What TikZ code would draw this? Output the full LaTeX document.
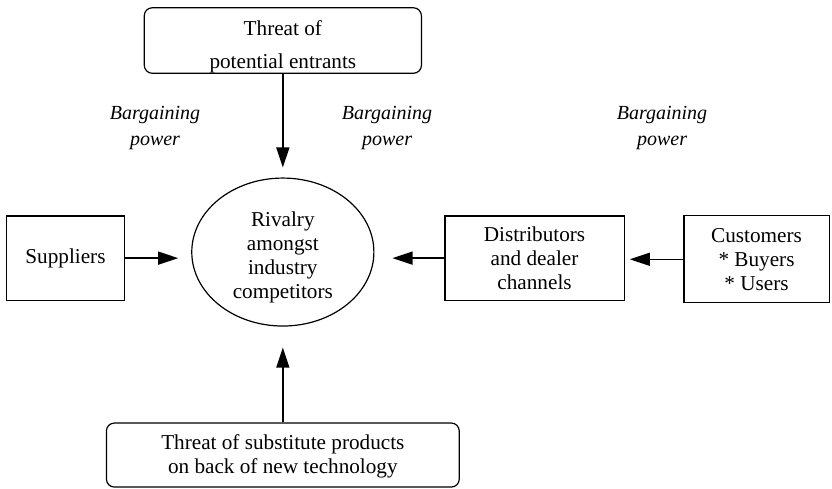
\documentclass[tikz,border=0pt]{standalone}
\usepackage{fontspec}
\setmainfont{Liberation Serif}
\usetikzlibrary{arrows.meta,shapes.geometric}

\tikzset{
  force/.style={draw,line width=0.6pt,align=center,inner sep=0pt,
    font=\fontsize{10.6}{12}\selectfont},
  threat/.style={force,rounded corners=4pt},
  flow/.style={line width=0.7pt,-{Triangle[length=10pt,width=6.5pt]}},
  power/.style={align=center,font=\fontsize{10}{13}\selectfont\itshape}
}

\begin{document}
\begin{tikzpicture}
  \useasboundingbox (0,0) rectangle (14.62,8.576);
  % the five forces
  \node[threat,minimum width=4.87cm,minimum height=1.14cm,
    font=\fontsize{10.6}{16.5}\selectfont] (entrants) at (4.97,7.864)
    {\rule{0pt}{14pt}Threat of\\potential entrants};
  \node[force,ellipse,minimum width=3.2cm,minimum height=2.6cm] (rivalry) at (4.97,4.147)
    {\rule{0pt}{12.5pt}Rivalry\\amongst\\industry\\competitors};
  \node[force,minimum width=2.06cm,minimum height=1.48cm] (suppliers) at (1.151,4.04) {Suppliers};
  \node[force,minimum width=3.15cm,minimum height=1.48cm] (dealers) at (9.393,4.04)
    {Distributors\\and dealer\\channels};
  \node[force,minimum width=2.55cm,minimum height=1.53cm] (customers) at (13.294,4.02)
    {Customers\\* Buyers\\* Users};
  \node[threat,minimum width=6.2cm,minimum height=1.125cm] (substitutes) at (4.97,0.58)
    {\rule{0pt}{9pt}Threat of substitute products\\on back of new technology};
  % bargaining power labels
  \node[power] (power1) at (2.724,6.33) {Bargaining\\power};
  \node[power] (power2) at (6.801,6.33) {Bargaining\\power};
  \node[power] (power3) at (11.633,6.33) {Bargaining\\power};
  % arrows into the rivalry
  \draw[flow,shorten >=5pt] (entrants) -- (rivalry);
  \draw[flow,shorten >=10.5pt] (substitutes) -- (rivalry);
  \draw[flow,shorten >=6.5pt] (suppliers.east) -- (suppliers.east -| rivalry.west);
  \draw[flow,shorten >=9pt] (dealers.west) -- (dealers.west -| rivalry.east);
  \draw[flow,shorten >=2.5pt] (customers.west) -- (customers.west -| dealers.east);
\end{tikzpicture}
\end{document}
